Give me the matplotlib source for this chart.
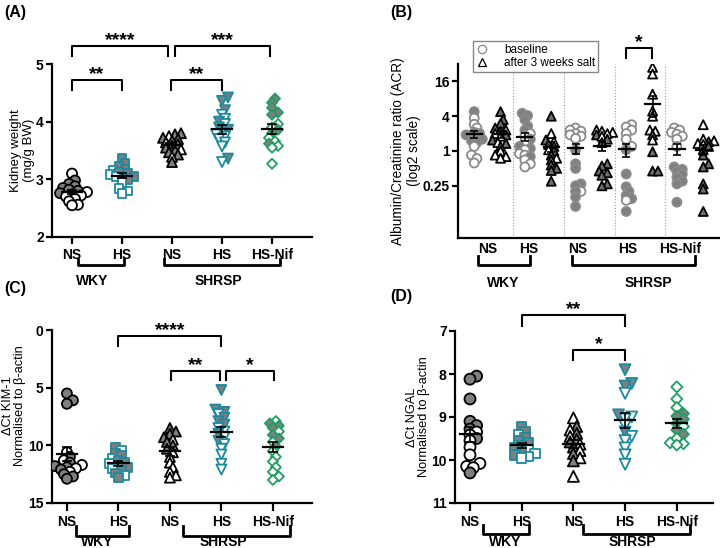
import numpy as np
import matplotlib
matplotlib.use('Agg')
import matplotlib.pyplot as plt
import matplotlib.transforms as mtrans
from matplotlib.lines import Line2D

plt.rcParams['font.family'] = ['Liberation Sans', 'DejaVu Sans']

TEAL = '#1c8a9e'
GREEN = '#1f9e62'
GREY = '#7f7f7f'

groups = ['NS', 'HS', 'NS', 'HS', 'HS-Nif']
markers = ['o', 's', '^', 'v', 'D']
edges = ['black', TEAL, 'black', TEAL, GREEN]

# (A) kidney weight, mg/g BW ; fill 1 = grey filled, 0 = open
a_vals = [
    [3.10, 2.98, 2.92, 2.88, 2.85, 2.82, 2.80, 2.78, 2.76, 2.74, 2.72, 2.70, 2.66, 2.62, 2.56, 2.55],
    [3.36, 3.27, 3.22, 3.18, 3.15, 3.12, 3.10, 3.08, 3.05, 3.05, 3.05, 3.00, 2.95, 2.84, 2.80, 2.76],
    [3.80, 3.78, 3.75, 3.72, 3.70, 3.67, 3.64, 3.61, 3.58, 3.55, 3.52, 3.50, 3.47, 3.43, 3.39, 3.30],
    [4.42, 4.36, 4.20, 4.12, 4.05, 4.00, 3.96, 3.90, 3.86, 3.82, 3.78, 3.74, 3.70, 3.64, 3.57, 3.36, 3.30],
    [4.40, 4.33, 4.24, 4.16, 4.12, 3.96, 3.90, 3.86, 3.80, 3.72, 3.66, 3.62, 3.58, 3.55, 3.27],
]
a_fill = [
    [0, 1, 1, 1, 1, 1, 1, 0, 1, 1, 0, 0, 0, 0, 0, 0],
    [1, 1, 1, 1, 0, 1, 1, 0, 1, 1, 0, 1, 0, 0, 0, 0],
    [1, 1, 0, 1, 1, 1, 0, 1, 1, 1, 0, 1, 1, 1, 0, 1],
    [1, 1, 1, 0, 0, 1, 0, 1, 1, 0, 0, 0, 0, 0, 0, 1, 0],
    [1, 1, 1, 1, 1, 0, 0, 1, 1, 0, 0, 1, 0, 0, 0],
]

# (B) ACR, baseline (circles) and after 3 weeks salt (triangles)
b_base = [
    [4.8, 3.7, 2.9, 2.5, 2.1, 2.0, 1.9, 1.8, 1.7, 1.6, 1.5, 1.4, 1.2, 0.85, 0.74, 0.62],
    [4.5, 4.1, 3.5, 2.7, 2.3, 2.0, 1.8, 1.6, 1.45, 1.2, 1.1, 1.05, 0.9, 0.85, 0.8, 0.7, 0.6, 0.53],
    [2.5, 2.3, 2.2, 2.0, 1.9, 1.8, 1.65, 1.04, 0.6, 0.5, 0.27, 0.25, 0.2, 0.2, 0.16, 0.11],
    [2.85, 2.6, 2.3, 2.0, 1.6, 1.2, 1.05, 0.4, 0.24, 0.2, 0.17, 0.15, 0.14, 0.09],
    [2.5, 2.3, 2.1, 1.95, 1.8, 1.6, 1.2, 0.53, 0.48, 0.45, 0.4, 0.35, 0.3, 0.27, 0.13],
]
b_base_fill = [
    [1, 0, 0, 0, 1, 1, 1, 1, 1, 1, 1, 1, 0, 0, 0, 0],
    [1, 1, 1, 1, 1, 0, 0, 1, 0, 1, 1, 0, 0, 0, 1, 0, 0, 0],
    [0, 0, 0, 0, 0, 0, 0, 1, 1, 1, 1, 1, 0, 1, 1, 1],
    [0, 0, 0, 0, 0, 0, 1, 1, 1, 1, 1, 1, 0, 1],
    [0, 0, 0, 0, 0, 0, 0, 1, 1, 1, 1, 1, 1, 1, 1],
]
b_salt = [
    [4.8, 3.5, 3.0, 2.5, 2.3, 2.2, 2.0, 1.9, 1.8, 1.55, 1.4, 1.35, 1.2, 1.0, 0.85, 0.8, 0.75],
    [4.0, 2.0, 1.55, 1.45, 1.3, 1.2, 1.05, 1.0, 0.85, 0.75, 0.7, 0.57, 0.5, 0.46, 0.3],
    [2.3, 2.2, 2.1, 2.0, 1.9, 1.8, 1.6, 1.4, 0.6, 0.55, 0.45, 0.42, 0.38, 0.27, 0.25],
    [28, 21.5, 9.6, 4.9, 4.0, 2.3, 2.2, 1.9, 1.55, 0.97, 0.45, 0.45],
    [2.85, 1.6, 1.5, 1.45, 1.35, 1.3, 1.2, 1.05, 0.85, 0.6, 0.53, 0.27, 0.22, 0.09],
]
b_salt_fill = [
    [1, 1, 1, 1, 0, 1, 0, 1, 0, 1, 0, 1, 1, 0, 0, 0, 0],
    [1, 0, 1, 0, 1, 1, 0, 1, 1, 0, 1, 1, 1, 1, 1],
    [0, 0, 0, 0, 1, 0, 1, 1, 1, 1, 1, 1, 1, 1, 1],
    [0, 0, 0, 0, 0, 0, 0, 1, 0, 1, 1, 1],
    [0, 0, 0, 1, 0, 0, 1, 1, 1, 1, 1, 1, 1, 1],
]
b_ticks = [0.25, 1, 4, 16]
b_tick_labels = ['0.25', '1', '4', '16']
b_group_pos = [0, 0.8, 1.78, 2.75, 3.8]

# (C) dCt KIM-1
c_vals = [
    [5.5, 6.1, 6.4, 10.6, 11.0, 11.3, 11.5, 11.7, 11.8, 11.9, 12.0, 12.1, 12.3, 12.5, 12.7, 12.9],
    [10.2, 10.4, 10.7, 10.9, 11.1, 11.3, 11.5, 11.6, 11.8, 11.9, 12.0, 12.2, 12.4, 12.6, 12.8],
    [8.5, 8.8, 9.0, 9.3, 9.5, 9.7, 10.0, 10.3, 10.6, 11.0, 11.5, 11.9, 12.3, 12.6, 12.8],
    [5.2, 6.9, 7.1, 7.3, 7.6, 7.9, 8.2, 8.5, 8.8, 9.0, 9.3, 9.6, 9.9, 10.3, 10.8, 11.6, 12.1],
    [7.9, 8.1, 8.3, 8.5, 8.8, 9.1, 9.4, 9.7, 10.1, 10.5, 11.0, 11.4, 11.9, 12.3, 12.7, 13.0],
]
c_fill = [
    [1, 1, 1, 0, 1, 0, 1, 0, 1, 1, 0, 1, 0, 1, 1, 1],
    [1, 0, 1, 1, 0, 1, 1, 0, 1, 1, 0, 1, 1, 0, 1],
    [1, 1, 1, 1, 0, 1, 1, 1, 0, 0, 0, 0, 0, 0, 0],
    [1, 1, 1, 0, 1, 1, 1, 0, 0, 1, 0, 1, 0, 0, 0, 0, 0],
    [0, 1, 1, 1, 0, 1, 1, 0, 1, 0, 0, 0, 0, 0, 0, 0],
]

# (D) dCt NGAL
d_vals = [
    [8.05, 8.12, 8.58, 9.10, 9.20, 9.28, 9.35, 9.42, 9.50, 9.55, 9.70, 9.88, 10.08, 10.15, 10.18, 10.30],
    [9.22, 9.35, 9.42, 9.48, 9.55, 9.60, 9.66, 9.72, 9.76, 9.80, 9.85, 9.88, 9.92, 9.95],
    [9.02, 9.22, 9.30, 9.38, 9.45, 9.52, 9.58, 9.63, 9.70, 9.78, 9.85, 9.95, 10.02, 10.38],
    [7.90, 8.22, 8.28, 8.45, 8.95, 9.00, 9.05, 9.20, 9.35, 9.45, 9.55, 9.72, 9.88, 10.10],
    [8.30, 8.58, 8.78, 8.92, 8.98, 9.05, 9.15, 9.22, 9.30, 9.40, 9.50, 9.60, 9.62, 9.65],
]
d_fill = [
    [1, 1, 1, 1, 1, 1, 0, 0, 1, 0, 0, 0, 0, 0, 0, 1],
    [1, 1, 0, 1, 1, 1, 0, 1, 0, 1, 0, 1, 0, 0],
    [0, 1, 0, 1, 0, 1, 1, 0, 1, 0, 1, 0, 1, 0],
    [1, 1, 1, 0, 1, 0, 0, 0, 1, 0, 0, 0, 0, 0],
    [0, 0, 0, 1, 1, 1, 1, 0, 1, 1, 0, 0, 0, 0],
]

fig = plt.figure(figsize=(7.2, 5.48), dpi=100)


def px_axes(l, t, r, b):
    return fig.add_axes([l / 720, 1 - b / 548, (r - l) / 720, (b - t) / 548])


def swarm(ax, x0, vals, size_px, spread):
    # simple beeswarm in pixel space, points allowed to overlap partly
    pts = ax.transData.transform(np.column_stack([np.full(len(vals), x0), vals]))
    placed = []
    xs = np.zeros(len(vals))
    step = size_px * 0.3
    for i in np.argsort(pts[:, 1]):
        py = pts[i, 1]
        for k in range(80):
            off = ((k + 1) // 2) * step * (1 if k % 2 else -1)
            px = pts[i, 0] + off
            if all(np.hypot(px - qx, py - qy) >= size_px * spread for qx, qy in placed):
                break
        placed.append((px, py))
        xs[i] = ax.transData.inverted().transform((px, py))[0]
    return xs


def draw_group(ax, x, vals, fills, marker, edge, size_px, face=GREY, spread=0.5):
    xs = swarm(ax, x, vals, size_px, spread)
    fc = [face if f else 'white' for f in fills]
    s = (size_px * 0.72) ** 2
    if marker == 'D':
        s *= 0.5
    elif marker == 's':
        s *= 0.75
    ax.scatter(xs, vals, s=s, marker=marker, facecolors=fc, edgecolors=edge,
               linewidths=1.3, zorder=3)


def mean_sem(ax, x, vals, hw=0.2, cap=3.5):
    m = np.mean(vals)
    se = np.std(vals, ddof=1) / np.sqrt(len(vals))
    ax.plot([x - hw, x + hw], [m, m], color='black', lw=1.6, zorder=4)
    ax.errorbar([x], [m], yerr=[[se], [se]], fmt='none', ecolor='black',
                elinewidth=1.2, capsize=cap, capthick=1.2, zorder=4)


def sig(ax, x1, x2, y, yend, text):
    ax.plot([x1, x1, x2, x2], [yend, y, y, yend], color='black', lw=1.5, clip_on=False)
    ax.annotate(text, xy=((x1 + x2) / 2, y), xytext=(0, 0.5), textcoords='offset points',
                ha='center', va='baseline', fontsize=14, fontweight='bold',
                annotation_clip=False)


def group_bracket(ax, x1, x2, ybar, ytick, xt, yt, label):
    tr = mtrans.blended_transform_factory(ax.transData, ax.transAxes)
    ax.plot([x1, x1, x2, x2], [ytick, ybar, ybar, ytick], color='black', lw=2,
            transform=tr, clip_on=False)
    ax.text(xt, yt, label, transform=tr, ha='center', va='center',
            fontsize=10, fontweight='bold')


def style(ax, xticklen=5):
    for sp in ['top', 'right']:
        ax.spines[sp].set_visible(False)
    for sp in ['left', 'bottom']:
        ax.spines[sp].set_linewidth(1.6)
    ax.tick_params(axis='y', length=4, width=1.6, labelsize=10, pad=2)
    ax.tick_params(axis='x', length=xticklen, width=1.6, labelsize=10, pad=3)
    for lab in ax.get_xticklabels() + ax.get_yticklabels():
        lab.set_fontweight('bold')


# ---------------- (A)
axA = px_axes(52, 64, 312, 237)
axA.set_xlim(-0.4, 4.8)
axA.set_ylim(2, 5)
axA.set_yticks([2, 3, 4, 5])
axA.set_xticks(range(5))
axA.set_xticklabels(groups)
for i in range(5):
    draw_group(axA, i, a_vals[i], a_fill[i], markers[i], edges[i], 10)
    mean_sem(axA, i, a_vals[i])
style(axA)
axA.set_ylabel('Kidney weight\n(mg/g BW)', fontsize=9.5, linespacing=1.1)
axA.yaxis.set_label_coords(-0.067, 0.5)
sig(axA, 0, 1.92, 5.31, 5.14, '****')
sig(axA, 2.06, 3.96, 5.31, 5.14, '***')
sig(axA, 0, 1, 4.72, 4.55, '**')
sig(axA, 1.98, 3, 4.72, 4.55, '**')
group_bracket(axA, 0.12, 1.04, -0.162, -0.127, 0.4, -0.255, 'WKY')
group_bracket(axA, 1.84, 4.16, -0.162, -0.127, 2.92, -0.255, 'SHRSP')

# ---------------- (B)
axB = px_axes(458, 64, 722, 238)
axB.set_yscale('log', base=2)
axB.set_ylim(2 ** -5, 2 ** 5)
axB.set_xlim(-0.59, 4.62)
axB.set_yticks(b_ticks)
axB.set_yticklabels(b_tick_labels)
axB.yaxis.set_minor_locator(matplotlib.ticker.NullLocator())
axB.set_xticks(b_group_pos)
axB.set_xticklabels(groups)
for i in range(4):
    axB.axvline(i + 0.5, color='#9a9a9a', ls=':', lw=0.8, zorder=1)
for i in range(5):
    draw_group(axB, i - 0.27, b_base[i], b_base_fill[i], 'o', '#8a8a8a', 9, face='#808080')
    mean_sem(axB, i - 0.27, b_base[i], hw=0.15, cap=3)
    draw_group(axB, i + 0.25, b_salt[i], b_salt_fill[i], '^', 'black', 9, face='#6e6e6e')
    mean_sem(axB, i + 0.25, b_salt[i], hw=0.15, cap=3)
style(axB, xticklen=0)
axB.set_ylabel('Albumin/Creatinine ratio (ACR)\n(log2 scale)', fontsize=9.8, linespacing=1.15)
axB.yaxis.set_label_coords(-0.14, 0.5)
sig(axB, 2.73, 3.24, 2 ** 5.92, 2 ** 5.34, '*')
group_bracket(axB, -0.19, 0.84, -0.155, -0.103, 0.3, -0.26, 'WKY')
group_bracket(axB, 1.66, 4.09, -0.155, -0.103, 3.16, -0.26, 'SHRSP')
handles = [Line2D([], [], marker='o', ls='none', mfc='white', mec='#8a8a8a', ms=6, mew=0.9),
           Line2D([], [], marker='^', ls='none', mfc='white', mec='black', ms=6, mew=0.9)]
axB.legend(handles, ['baseline', 'after 3 weeks salt'], loc='upper left',
           bbox_to_anchor=(473 / 720, 1 - 41 / 548), bbox_transform=fig.transFigure,
           fontsize=8.5, frameon=True, fancybox=False, edgecolor='#888888',
           framealpha=1, borderpad=0.25, labelspacing=0.1, handlelength=1,
           handletextpad=1.4, borderaxespad=0)

# ---------------- (C)
axC = px_axes(52, 330, 312, 503)
axC.set_xlim(-0.29, 4.76)
axC.set_ylim(15, 0)
axC.set_yticks([0, 5, 10, 15])
axC.set_xticks(range(5))
axC.set_xticklabels(groups)
for i in range(5):
    draw_group(axC, i, c_vals[i], c_fill[i], markers[i], edges[i], 10)
    mean_sem(axC, i, c_vals[i])
style(axC, xticklen=6)
axC.set_ylabel('\u0394Ct KIM-1\nNormalised to \u03b2-actin', fontsize=9.2, linespacing=1.0)
axC.yaxis.set_label_coords(-0.1, 0.56)
sig(axC, 1, 3, 0.52, 1.39, '****')
sig(axC, 2.02, 2.97, 3.56, 4.34, '**')
sig(axC, 3.09, 4.02, 3.56, 4.34, '*')
group_bracket(axC, 0.17, 1.2, -0.19, -0.133, 0.58, -0.225, 'WKY')
group_bracket(axC, 2.25, 4.33, -0.19, -0.133, 3.03, -0.225, 'SHRSP')

# ---------------- (D)
axD = px_axes(455, 331, 713, 503)
axD.set_xlim(-0.29, 4.7)
axD.set_ylim(11, 7)
axD.set_yticks([7, 8, 9, 10, 11])
axD.set_xticks(range(5))
axD.set_xticklabels(groups)
for i in range(5):
    draw_group(axD, i, d_vals[i], d_fill[i], markers[i], edges[i], 11)
    mean_sem(axD, i, d_vals[i])
style(axD, xticklen=6)
axD.set_ylabel('\u0394Ct NGAL\nNormalised to \u03b2-actin', fontsize=9.2, linespacing=1.0)
axD.yaxis.set_label_coords(-0.098, 0.5)
sig(axD, 1, 3, 6.63, 6.88, '**')
sig(axD, 2, 3, 7.44, 7.67, '*')
group_bracket(axD, 0.25, 1.14, -0.18, -0.128, 0.68, -0.227, 'WKY')
group_bracket(axD, 2.18, 4.25, -0.18, -0.128, 3.15, -0.227, 'SHRSP')

# panel letters
for x, y, t in [(4, 12, '(A)'), (390, 12, '(B)'), (4, 289, '(C)'), (390, 296, '(D)')]:
    fig.text(x / 720, 1 - y / 548, t, fontsize=11.5, fontweight='bold', va='center')

fig.savefig('out.png', dpi=100)
